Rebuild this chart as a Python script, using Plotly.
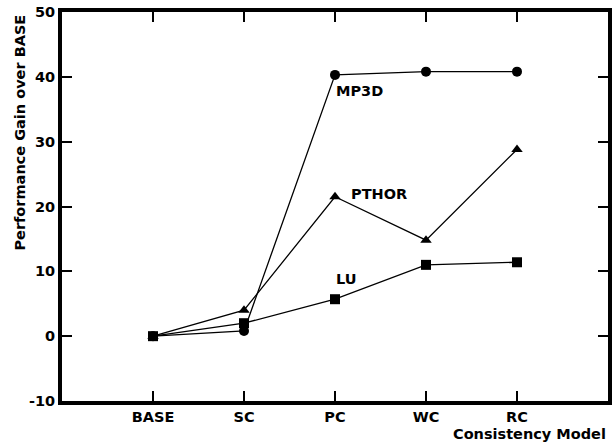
import plotly.graph_objects as go

categories = ["BASE", "SC", "PC", "WC", "RC"]
mp3d = [0, 0.8, 40.3, 40.8, 40.8]
pthor = [0, 4.0, 21.5, 14.8, 28.8]
lu = [0, 2.0, 5.7, 11.0, 11.4]
y_ticks = [-10, 0, 10, 20, 30, 40, 50]

FONT = "DejaVu Sans"
x_idx = list(range(len(categories)))

fig = go.Figure()
line = dict(color="black", width=1.3)
fig.add_trace(go.Scatter(x=x_idx, y=mp3d, mode="lines+markers", line=line,
                         marker=dict(symbol="circle", size=10, color="black"), name="MP3D"))
fig.add_trace(go.Scatter(x=x_idx, y=pthor, mode="lines+markers", line=line,
                         marker=dict(symbol="triangle-up", size=10, color="black"), name="PTHOR"))
fig.add_trace(go.Scatter(x=x_idx, y=lu, mode="lines+markers", line=line,
                         marker=dict(symbol="square", size=10, color="black"), name="LU"))

tf = dict(family=FONT, size=14.5, color="black", weight="bold")
axis_common = dict(showline=True, linewidth=4, linecolor="black", mirror="ticks",
                   ticks="inside", ticklen=10, tickwidth=2, tickcolor="black",
                   showgrid=False, zeroline=False, tickfont=tf, automargin=False)

fig.update_layout(
    template="none",
    width=615, height=443,
    margin=dict(l=62, r=7, t=12, b=42),
    plot_bgcolor="white", paper_bgcolor="white",
    showlegend=False,
    xaxis=dict(range=[-1, 5], tickvals=x_idx, ticktext=categories, **axis_common),
    yaxis=dict(range=[-10, 50], tickvals=y_ticks, ticktext=[str(v) for v in y_ticks], **axis_common),
)

annots = [
    dict(x=1.99, y=37.8, text="MP3D", xanchor="left"),
    dict(x=2.15, y=22.0, text="PTHOR", xanchor="left"),
    dict(x=1.99, y=8.8, text="LU", xanchor="left"),
]
for a in annots:
    fig.add_annotation(xref="x", yref="y", showarrow=False, yanchor="middle",
                       font=tf, **a)

fig.add_annotation(xref="paper", yref="paper", x=1.0, y=-0.058, xanchor="right", yanchor="top",
                   text="Consistency Model", showarrow=False, font=tf)
fig.add_annotation(xref="paper", yref="paper", x=-0.077, y=0.69, xanchor="center", yanchor="middle",
                   text="Performance Gain over BASE", textangle=-90, showarrow=False, font=tf)

fig.write_html("out.html", config={"displayModeBar": False},
               post_script="document.body.style.margin='0';document.body.style.overflow='hidden';")
